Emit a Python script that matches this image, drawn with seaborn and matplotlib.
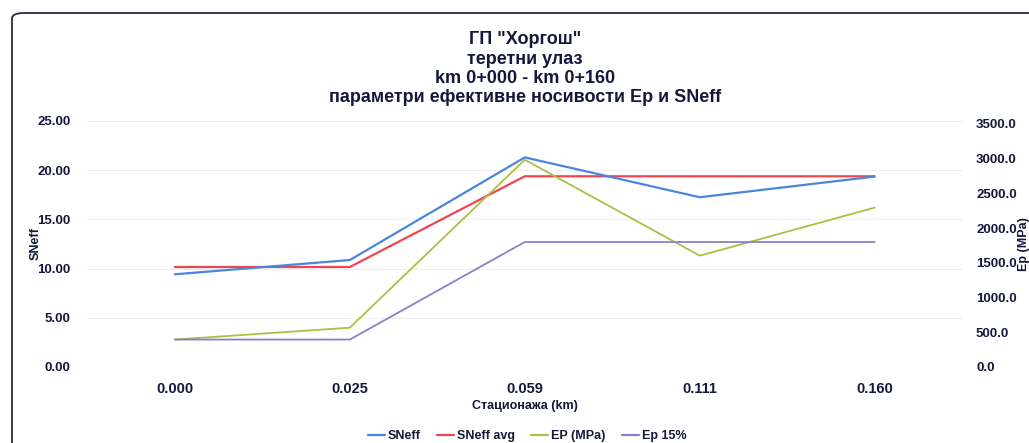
import matplotlib
matplotlib.use("Agg")
import matplotlib.pyplot as plt
from matplotlib.patches import FancyBboxPatch
from matplotlib.lines import Line2D
import seaborn as sns
import pandas as pd

# Chainage stations (km) and measured/derived bearing parameters
stations = ["0.000", "0.025", "0.059", "0.111", "0.160"]
sneff = [9.42, 10.87, 21.30, 17.25, 19.35]
sneff_avg = [10.16, 10.16, 19.38, 19.38, 19.38]
ep_mpa = [395, 566, 2985, 1603, 2295]
ep_15 = [395, 395, 1800, 1800, 1800]

colors = {
    "SNeff": "#4a86dc",
    "SNeff avg": "#ee4650",
    "EP (MPa)": "#a9c143",
    "Ep 15%": "#8d7fc9",
}

df = pd.DataFrame({
    "station": stations,
    "SNeff": sneff,
    "SNeff avg": sneff_avg,
    "EP (MPa)": ep_mpa,
    "Ep 15%": ep_15,
})

sns.set_theme(style="white")
plt.rcParams["font.family"] = ["Liberation Sans", "DejaVu Sans"]
text_col = "#15183a"

fig = plt.figure(figsize=(10.29, 4.43), dpi=100)
ax = fig.add_axes([0.085, 0.1716, 0.850, 0.5553])
ax2 = ax.twinx()

for name in ["SNeff avg", "SNeff"]:
    sns.lineplot(data=df, x="station", y=name, ax=ax, color=colors[name],
                 linewidth=1.6, sort=False)
for name in ["EP (MPa)", "Ep 15%"]:
    sns.lineplot(data=df, x="station", y=name, ax=ax2, color=colors[name],
                 linewidth=1.3, sort=False)

ax.set_xlim(-0.5, len(stations) - 0.5)
ax.set_ylim(0, 25)
ax.set_yticks([0, 5, 10, 15, 20, 25])
ax.set_yticklabels([f"{v:.2f}" for v in [0, 5, 10, 15, 20, 25]])
ax2.set_ylim(0, 3543)
ax2.set_yticks([0, 500, 1000, 1500, 2000, 2500, 3000, 3500])
ax2.set_yticklabels([f"{v:.1f}" for v in [0, 500, 1000, 1500, 2000, 2500, 3000, 3500]])

ax.yaxis.grid(True, color="#efefef", linewidth=0.8)
ax.set_axisbelow(True)

for a in (ax, ax2):
    for s in a.spines.values():
        s.set_visible(False)
    a.tick_params(length=0)

ax.tick_params(axis="y", pad=12, labelsize=9.5, labelcolor=text_col)
ax.tick_params(axis="x", pad=11, labelsize=10.5, labelcolor=text_col)
ax2.tick_params(axis="y", pad=10, labelsize=9.5, labelcolor=text_col)
for lbl in ax.get_xticklabels() + ax.get_yticklabels() + ax2.get_yticklabels():
    lbl.set_fontweight("bold")

ax.set_xlabel("Стационажа (km)", fontsize=9, fontweight="bold", color=text_col, labelpad=3)
ax.set_ylabel("SNeff", fontsize=9, fontweight="bold", color=text_col, labelpad=-3)
ax2.set_ylabel("Ep (MPa)", fontsize=9, fontweight="bold", color=text_col, labelpad=1)

title = ('ГП "Хоргош"\nтеретни улаз\nkm 0+000 - km 0+160\n'
         'параметри ефективне носивости Ep и SNeff')
fig.text(0.51, 0.845, title, ha="center", va="center", fontsize=13,
         fontweight="bold", color=text_col, linespacing=1.17)

handles = [Line2D([0], [0], color=colors[n], linewidth=1.6) for n in colors]
leg = fig.legend(handles, list(colors), loc="center", bbox_to_anchor=(0.512, 0.016),
                 ncol=4, frameon=False, fontsize=9, handlelength=1.4,
                 handletextpad=0.2, columnspacing=1.3)
for t in leg.get_texts():
    t.set_fontweight("bold")
    t.set_color(text_col)

# rounded chart frame running off the right and bottom edges
frame = FancyBboxPatch((12 / 1029, -0.1), 1.2, 1.1 - 13 / 443,
                       boxstyle="round,pad=0,rounding_size=0.012",
                       transform=fig.transFigure, fill=False,
                       edgecolor="#2a2a3a", linewidth=1.3, clip_on=False)
fig.patches.append(frame)

fig.savefig("out.png", dpi=100)
